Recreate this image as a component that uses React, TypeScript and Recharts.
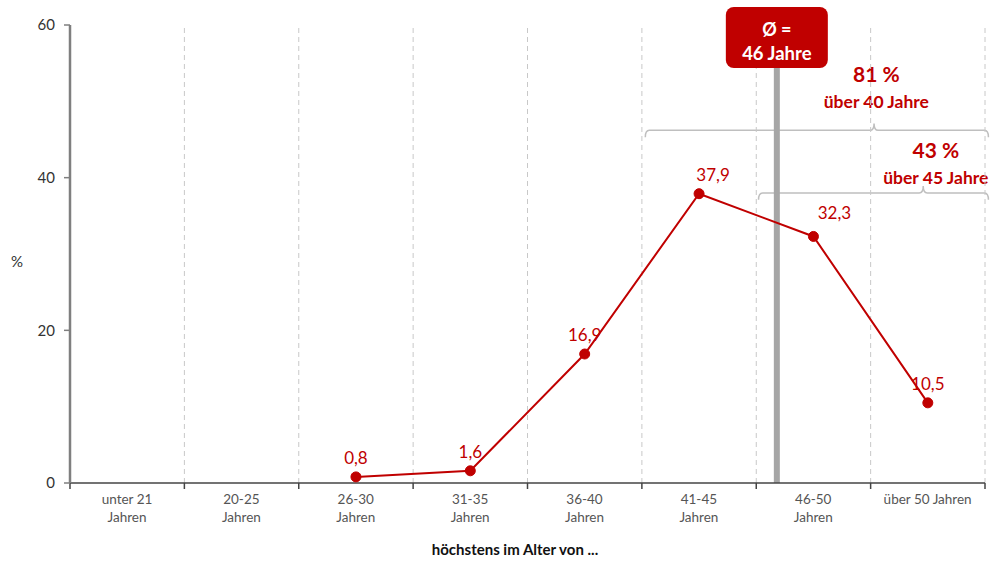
import {
  LineChart,
  Line,
  XAxis,
  YAxis,
  ReferenceLine,
  ReferenceArea,
  LabelList,
  Label
} from 'recharts';

const categories = [
  ['unter 21', 'Jahren'],
  ['20-25', 'Jahren'],
  ['26-30', 'Jahren'],
  ['31-35', 'Jahren'],
  ['36-40', 'Jahren'],
  ['41-45', 'Jahren'],
  ['46-50', 'Jahren'],
  ['über 50 Jahren']
];
const shares: (number | null)[] = [null, null, 0.8, 1.6, 16.9, 37.9, 32.3, 10.5];
const yTicks = [0, 20, 40, 60];
const boundaries = [1, 2, 3, 4, 5, 6, 7, 8];
const averageAge = 46;
const averagePos = 6.18; // Lage der Ø-Linie auf der Kategorienachse

const brackets = [
  { from: 5.03, to: 8.03, notch: 7.03, y: 46.2, pct: '81 %', text: 'über 40 Jahre', textX: 7.05, up: 55 },
  { from: 6.02, to: 8.03, notch: 7.46, y: 38.0, pct: '43 %', text: 'über 45 Jahre', textX: 7.57, up: 42 }
];

const RED = '#c00000';
const FONT = 'Lato, "Open Sans", sans-serif';

const data = shares.map((v, i) => ({ pos: i + 0.5, value: v }));

const CategoryTick = (props: any) => {
  const { x, y, payload } = props;
  const idx = payload.value;
  const lines = categories[idx];
  if (!lines) return null;
  return (
    <text x={x + 57} y={y + 13} textAnchor="middle" fontSize={13.5} fill="#555" fontFamily={FONT}>
      {lines.map((l, i) => (
        <tspan key={i} x={x + 57} dy={i === 0 ? 0 : 18}>
          {l}
        </tspan>
      ))}
    </text>
  );
};

const ValueLabel = (props: any) => {
  const { x, y, value, index } = props;
  if (value == null) return null;
  const dx = index === 5 ? 14 : index === 6 ? 21 : 0;
  const dy = index === 6 ? -17 : -13;
  return (
    <text x={x + dx} y={y + dy} textAnchor="middle" fontSize={17} fill={RED} fontFamily={FONT}>
      {String(value).replace('.', ',')}
    </text>
  );
};

const makeBracket = (b: typeof brackets[number]) => (props: any) => {
  const { x, y, width, height } = props;
  const mid = y + height / 2;
  const bottom = y + height;
  const nx = x + ((b.notch - b.from) / (b.to - b.from)) * width;
  const tx = x + ((b.textX - b.from) / (b.to - b.from)) * width;
  const d =
    `M ${x} ${bottom} Q ${x} ${mid} ${x + 4} ${mid} L ${nx - 4} ${mid} Q ${nx} ${mid} ${nx} ${y} ` +
    `Q ${nx} ${mid} ${nx + 4} ${mid} L ${x + width - 4} ${mid} Q ${x + width} ${mid} ${x + width} ${bottom}`;
  return (
    <g>
      <path d={d} fill="none" stroke="#bfbfbf" strokeWidth={1.5} />
      <text x={tx} y={mid - b.up + 7} textAnchor="middle" fontSize={21} fontWeight="bold" fill={RED} fontFamily={FONT}>
        {b.pct}
      </text>
      <text x={tx} y={mid - b.up + 33} textAnchor="middle" fontSize={17.5} fontWeight="bold" fill={RED} fontFamily={FONT}>
        {b.text}
      </text>
    </g>
  );
};

const AverageCallout = (props: any) => {
  const { viewBox } = props;
  const cx = viewBox.x;
  return (
    <g>
      <rect x={cx - 51} y={7} width={102} height={61} rx={8} fill={RED} />
      <text x={cx} y={36} textAnchor="middle" fontSize={18} fontWeight="bold" fill="#fff" fontFamily={FONT}>
        Ø =
      </text>
      <text x={cx} y={60} textAnchor="middle" fontSize={18.5} fontWeight="bold" fill="#fff" fontFamily={FONT}>
        {averageAge} Jahre
      </text>
    </g>
  );
};

const App = () => {
  return (
    <div style={{ position: 'absolute', left: 0, top: 0, width: 999, height: 562, background: '#fff' }}>
      <LineChart width={999} height={562} data={data} margin={{ top: 25, right: 14, bottom: 0, left: 30 }}>
        {boundaries.map(b => (
          <ReferenceLine key={b} x={b} stroke="#c8c8c8" strokeDasharray="5 4" />
        ))}
        <XAxis
          dataKey="pos"
          type="number"
          domain={[0, 8]}
          ticks={[0, 1, 2, 3, 4, 5, 6, 7, 8]}
          interval={0}
          height={79}
          tick={<CategoryTick />}
          axisLine={{ stroke: '#444', strokeWidth: 1.5 }}
          tickLine={{ stroke: '#444', strokeWidth: 1.5 }}
          tickSize={6}
        >
          <Label
            content={() => (
              <text x={515} y={555} textAnchor="middle" fontSize={15} fontWeight="bold" fill="#111" fontFamily={FONT}>
                höchstens im Alter von ...
              </text>
            )}
          />
        </XAxis>
        <YAxis
          width={40}
          domain={[0, 60]}
          ticks={yTicks}
          interval={0}
          tick={{ fontSize: 15, fill: '#333', fontFamily: FONT }}
          tickMargin={9}
          tickSize={6}
          axisLine={{ stroke: '#7f7f7f', strokeWidth: 2.5 }}
          tickLine={{ stroke: '#7f7f7f', strokeWidth: 1.5 }}
        >
          <Label
            content={() => (
              <text x={17} y={267} textAnchor="middle" fontSize={15} fill="#333" fontFamily={FONT}>
                %
              </text>
            )}
          />
        </YAxis>
        <ReferenceLine x={averagePos} stroke="#a6a6a6" strokeWidth={6} label={<AverageCallout />} />
        {brackets.map((b, i) => (
          <ReferenceArea
            key={i}
            x1={b.from}
            x2={b.to}
            y1={b.y - 0.9}
            y2={b.y + 0.9}
            ifOverflow="visible"
            shape={makeBracket(b)}
          />
        ))}
        <Line
          dataKey="value"
          stroke={RED}
          strokeWidth={2}
          dot={{ r: 5, fill: RED, stroke: RED, strokeWidth: 1 }}
          isAnimationActive={false}
        >
          <LabelList dataKey="value" content={<ValueLabel />} />
        </Line>
      </LineChart>
    </div>
  );
};

export default App;
